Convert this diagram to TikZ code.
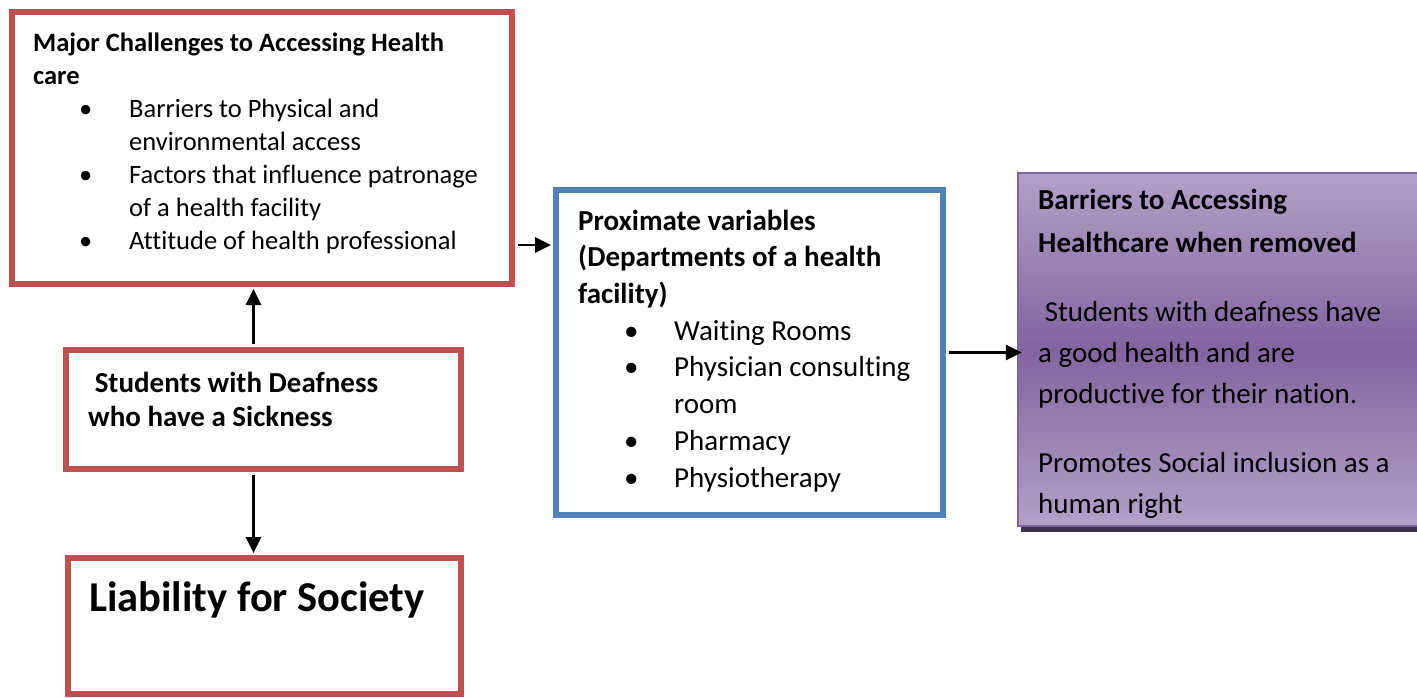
\documentclass[tikz,border=0pt]{standalone}
\usepackage{fontspec}
\setmainfont{Carlito}[Ligatures=CommonOff]
\usetikzlibrary{arrows.meta,positioning,shadows}

\definecolor{boxred}{HTML}{C0504D}
\definecolor{boxblue}{HTML}{4F81BD}
\definecolor{boxpurple}{HTML}{8064A2}
\definecolor{lightpurple}{HTML}{B2A1C7}
\definecolor{shadowpurple}{HTML}{3F3151}

\newcommand\bul{\hspace*{46pt}\makebox[50pt][l]{\textbullet}}
\newcommand\cont{\hspace*{96pt}}

\begin{document}
\begin{tikzpicture}[x=1pt,y=-1pt,
  redbox/.style={draw=boxred,line width=6pt,inner sep=0pt},
  bluebox/.style={draw=boxblue,line width=6pt,inner sep=0pt},
  txt/.style={anchor=base west,align=left,inner sep=0pt},
  arr/.style={line width=2.7pt,-{Triangle[length=16pt,width=15pt]},shorten <=3pt,shorten >=2pt}]
\path[use as bounding box,clip] (0,0) rectangle (1417,698);
\fill[white] (0,0) rectangle (1417,698);

\node[redbox,minimum width=500pt,minimum height=272pt] (chal) at (262,148) {};
\node[redbox,minimum width=395pt,minimum height=119pt] (stud) at (263.5,409.5) {};
\node[redbox,minimum width=393pt,minimum height=136pt] (liab) at (264.5,626) {};
\node[bluebox,minimum width=387pt,minimum height=325pt] (prox) at (749.5,352.5) {};
\node[draw=boxpurple,line width=2.5pt,top color=lightpurple,bottom color=lightpurple,middle color=boxpurple,
  general shadow={fill=shadowpurple,shadow xshift=3pt,shadow yshift=-6pt},
  minimum width=407pt,minimum height=353pt,inner sep=0pt] (remv) at (1221.5,349.5) {};

\node[txt,font=\fontsize{26.5}{33}\selectfont] (chaltext) at (33,249) {\textbf{Major Challenges to Accessing Health}\\\textbf{care}\\\bul Barriers to Physical and\\\cont environmental access\\\bul Factors that influence patronage\\\cont of a health facility\\\bul Attitude of health professional};
\node[txt,font=\fontsize{29}{34}\selectfont\bfseries] (studtext) at (88,426) {\ Students with Deafness\\who have a Sickness};
\node[txt,font=\fontsize{42.5}{51}\selectfont\bfseries] (liabtext) at (89,611) {Liability for Society};
\node[txt,font=\fontsize{29}{36.7}\selectfont] (proxtext) at (578,487) {\textbf{Proximate variables}\\\textbf{(Departments of a health}\\\textbf{facility)}\\\bul Waiting Rooms\\\bul Physician consulting\\\cont room\\\bul Pharmacy\\\bul Physiotherapy};
\begin{scope}
\clip (remv.north west) rectangle ([yshift=10pt]remv.south east);
\node[txt,font=\fontsize{29}{41}\selectfont] (remvtext) at (1038,513) {\textbf{Barriers to Accessing}\\[2pt]\textbf{Healthcare when removed}\\[28pt]\ Students with deafness have\\a good health and are\\productive for their nation.\\[28pt]Promotes Social inclusion as a\\human right};
\end{scope}

\draw[arr] ([xshift=-10pt]stud.north) -- ([xshift=-10pt]stud.north |- chal.south);
\draw[arr] ([xshift=-10pt]stud.south) -- ([xshift=-10pt]stud.south |- liab.north);
\coordinate (chalout) at ([yshift=-97pt]chal.east);
\draw[arr] (chalout) -- (chalout -| prox.west);
\draw[arr,shorten >=-5pt] (prox.east) -- (prox.east -| remv.west);
\end{tikzpicture}
\end{document}
